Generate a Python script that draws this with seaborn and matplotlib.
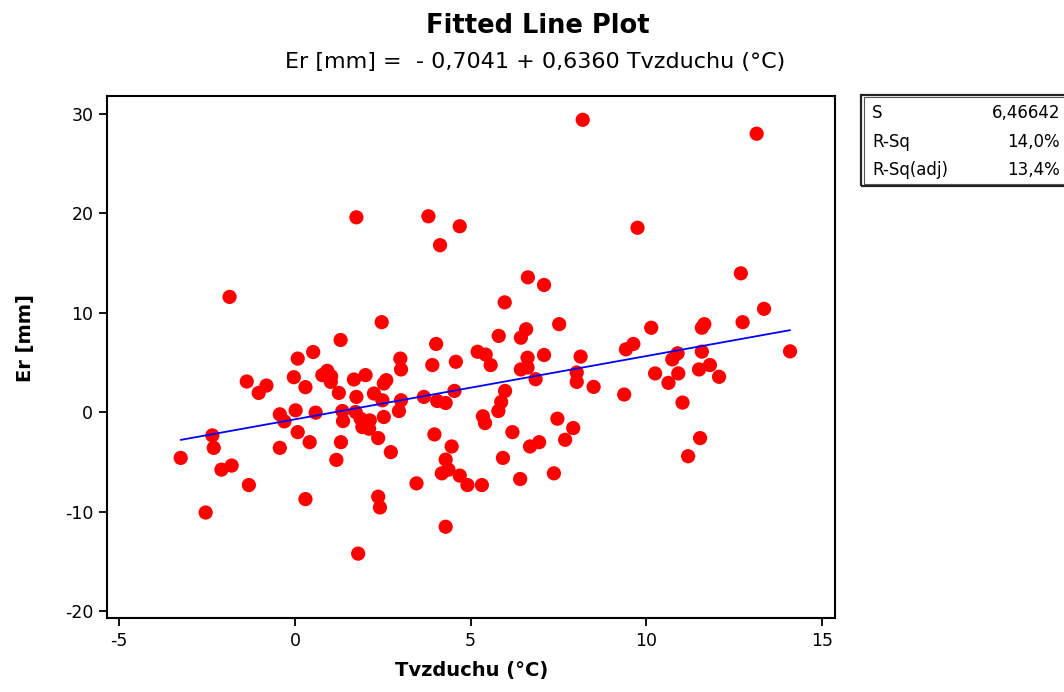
import matplotlib
matplotlib.use("Agg")
import matplotlib.pyplot as plt
import seaborn as sns
import numpy as np
import pandas as pd
from matplotlib.patches import Rectangle

# Air temperature (°C) and error Er (mm) observations
t_air = [
    -3.25, -2.54, -2.35, -2.31, -2.09, -1.80, -1.86, -1.37, -1.31, -1.03,
    -0.81, -0.43, -0.43, -0.30, -0.03, 0.02, 0.08, 0.08, 0.30, 0.42,
    0.30, 0.52, 0.59, 0.78, 0.92, 1.03, 1.02, 1.30, 1.18, 1.31,
    1.35, 1.37, 1.25, 1.68, 1.75, 1.75, 2.01, 1.73, 1.87, 1.96,
    2.13, 2.11, 1.92, 2.37, 2.25, 2.49, 2.53, 2.60, 2.53, 2.47,
    1.80, 2.37, 2.42, 2.73, 3.00, 3.02, 3.02, 2.96, 3.46, 3.67,
    3.80, 3.91, 3.97, 4.02, 4.05, 4.13, 4.29, 4.29, 4.18, 4.37,
    4.29, 4.46, 4.54, 4.58, 4.69, 4.69, 4.91, 5.20, 5.32, 5.35,
    5.41, 5.43, 5.57, 5.80, 5.79, 5.87, 5.98, 5.92, 5.97, 6.19,
    6.41, 6.43, 6.58, 6.43, 6.62, 6.62, 6.63, 6.69, 6.85, 6.95,
    7.09, 7.09, 7.37, 7.47, 7.52, 7.69, 7.92, 8.02, 8.02, 8.13,
    8.19, 8.50, 9.37, 9.42, 9.63, 9.75, 10.14, 10.25, 10.63, 10.74,
    10.89, 10.91, 11.03, 11.19, 11.50, 11.53, 11.58, 11.65, 11.58, 11.81,
    12.07, 12.69, 12.74, 13.14, 13.35, 14.09,
]
er_mm = [
    -4.58, -10.07, -2.32, -3.57, -5.76, -5.35, 11.6, 3.1, -7.31, 1.95,
    2.69, -0.2, -3.57, -0.91, 3.53, 0.2, 5.4, -1.99, -8.72, -3.0,
    2.53, 6.06, -0.03, 3.74, 4.17, 3.63, 3.06, 7.27, -4.78, -3.0,
    0.13, -0.88, 1.95, 3.3, 1.55, 19.6, 3.74, 0.03, -0.64, -1.21,
    -0.81, -1.65, -1.48, -2.59, 1.89, 1.21, 2.9, 3.23, -0.47, 9.06,
    -14.2, -8.48, -9.56, -4.0, 5.4, 4.31, 1.21, 0.13, -7.14, 1.55,
    19.7, 4.75, -2.22, 6.87, 1.14, 16.8, 0.94, -4.75, -6.13, -5.76,
    -11.5, -3.43, 2.15, 5.08, 18.7, -6.36, -7.31, 6.09, -7.31, -0.4,
    -1.08, 5.8, 4.75, 7.68, 0.13, 1.04, 2.15, -4.58, 11.05, -1.99,
    -6.7, 7.5, 8.35, 4.31, 4.51, 5.49, 13.57, -3.43, 3.33, -3.0,
    12.8, 5.76, -6.13, -0.64, 8.86, -2.76, -1.58, 4.0, 3.06, 5.6,
    29.4, 2.56, 1.79, 6.33, 6.87, 18.55, 8.5, 3.91, 2.96, 5.32,
    5.93, 3.91, 0.98, -4.41, 4.31, -2.59, 8.5, 8.86, 6.1, 4.75,
    3.57, 13.97, 9.06, 28.0, 10.4, 6.13,
]

# Regression coefficients and summary statistics
intercept = -0.7041
slope = 0.6360
stat_names = ["S", "R-Sq", "R-Sq(adj)"]
stat_values = ["6,46642", "14,0%", "13,4%"]

x_ticks = [-5, 0, 5, 10, 15]
y_ticks = [-20, -10, 0, 10, 20, 30]

sns.set_style("white")
plt.rcParams["font.family"] = ["DejaVu Sans"]
plt.rcParams["axes.unicode_minus"] = False
for key in ("text.color", "axes.labelcolor", "xtick.color", "ytick.color"):
    plt.rcParams[key] = "black"

df = pd.DataFrame({"t": t_air, "er": er_mm})
x_fit = np.linspace(min(t_air), max(t_air), 50)
fit = pd.DataFrame({"t": x_fit, "er": intercept + slope * x_fit})

fig = plt.figure(figsize=(10.64, 6.92), dpi=100)
ax = fig.add_axes([0.1008, 0.1065, 0.684, 0.7552])

sns.scatterplot(data=df, x="t", y="er", ax=ax, color="#ff0000", s=105,
                edgecolor="none", linewidth=0, zorder=2)
sns.lineplot(data=fit, x="t", y="er", ax=ax, color="#0000ff", lw=1.3, zorder=3)

ax.set_xlim(-5.34, 15.37)
ax.set_ylim(-20.7, 31.82)
ax.set_xticks(x_ticks)
ax.set_yticks(y_ticks)
ax.tick_params(axis="both", direction="out", length=6, width=1.3,
               color="black", labelsize=12.5, pad=4, bottom=True, left=True)
for sp in ax.spines.values():
    sp.set_color("black")
    sp.set_linewidth(1.5)

ax.set_xlabel("Tvzduchu (°C)", fontsize=14, fontweight="bold", labelpad=8)
ax.set_ylabel("Er [mm]", fontsize=14, fontweight="bold", labelpad=14)
ax.yaxis.set_label_coords(-0.099, 0.536)

fig.text(0.505, 0.962, "Fitted Line Plot", ha="center", va="center",
         fontsize=18.5, fontweight="bold")
fig.text(0.503, 0.911, "Er [mm] =  - 0,7041 + 0,6360 Tvzduchu (°C)",
         ha="center", va="center", fontsize=16)

# Summary statistics box with a double frame
bx0, by0, bw, bh = 861 / 1064, 1 - 186 / 692, 210 / 1064, 91 / 692
fig.patches.append(Rectangle((bx0, by0), bw, bh, transform=fig.transFigure,
                             fill=False, edgecolor="#222222", lw=1.6))
fig.patches.append(Rectangle((bx0 + 2.5 / 1064, by0 + 2.5 / 692),
                             bw - 5 / 1064, bh - 5 / 692,
                             transform=fig.transFigure, fill=False,
                             edgecolor="#555555", lw=0.8))
for i, (name, val) in enumerate(zip(stat_names, stat_values)):
    yy = 1 - (113 + i * 28.6) / 692
    fig.text(872 / 1064, yy, name, ha="left", va="center", fontsize=12)
    fig.text(1060 / 1064, yy, val, ha="right", va="center", fontsize=12)

fig.savefig("out.png", dpi=100)
